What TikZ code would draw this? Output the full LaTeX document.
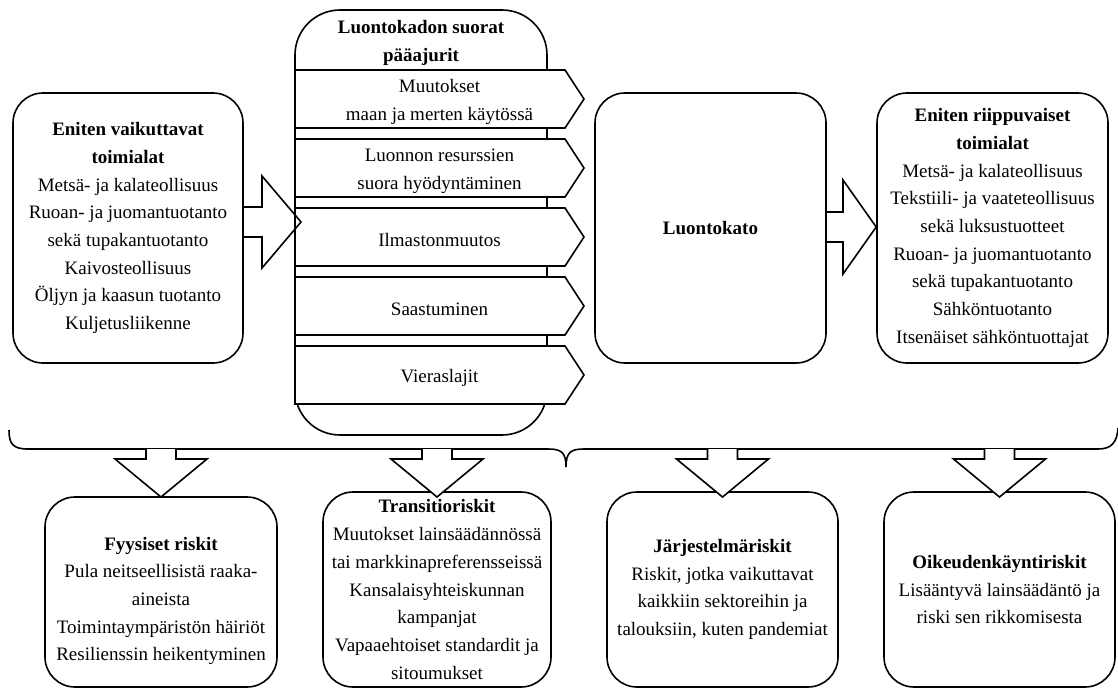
\documentclass[tikz,border=0pt]{standalone}
\usepackage{fontspec}
\setmainfont{Liberation Serif}
\usetikzlibrary{calc}
\begin{document}
\begin{tikzpicture}[x=1pt,y=-1pt,line width=1.6pt,
  every node/.style={font=\fontsize{19}{27.7}\selectfont},
  box/.style={draw, rounded corners=30pt, align=center, inner sep=0pt},
  colbox/.style={draw, rounded corners=45pt, inner sep=0pt},
  chev/.style={draw, fill=white, line join=miter},
  lbl/.style={align=center, inner sep=0pt},
  blockarrow/.style={draw, line join=miter}]
\useasboundingbox (0,0) rectangle (1118,688);

% top row boxes
\node[box, minimum width=230pt, minimum height=270pt] (L) at (128,228)
  {\textbf{Eniten vaikuttavat}\\\textbf{toimialat}\\Metsä- ja kalateollisuus\\Ruoan- ja juomantuotanto\\sekä tupakantuotanto\\Kaivosteollisuus\\Öljyn ja kaasun tuotanto\\Kuljetusliikenne};

\node[box, minimum width=231pt, minimum height=270pt] (C) at (710.5,228)
  {\textbf{Luontokato}};

\node[box, minimum width=231pt, minimum height=270pt] (R) at (992.5,228)
  {\textbf{Eniten riippuvaiset}\\\textbf{toimialat}\\Metsä- ja kalateollisuus\\Tekstiili- ja vaateteollisuus\\sekä luksustuotteet\\Ruoan- ja juomantuotanto\\sekä tupakantuotanto\\Sähköntuotanto\\Itsenäiset sähköntuottajat};

% middle column
\node[colbox, minimum width=252pt, minimum height=425pt] (M) at (421,222.5) {};
\node[lbl] (Mt) at (421,43) {\textbf{Luontokadon suorat}\\\textbf{pääajurit}};

\foreach \i/\t in {0/{Muutokset\\maan ja merten käytössä},
                   1/{Luonnon resurssien\\suora hyödyntäminen},
                   2/{Ilmastonmuutos},
                   3/{Saastuminen},
                   4/{Vieraslajit}} {
  \pgfmathsetmacro\tp{70+69*\i}
  \draw[chev] (295,\tp) -- (565,\tp) -- (584,\tp+29) -- (565,\tp+58) -- (295,\tp+58) -- cycle;
  \node[lbl] (d\i) at (439.5,\tp+32) {\t};
}

% horizontal block arrows
\draw[blockarrow] (L.east |- 0,207) -- (262,207) -- (262,176) -- (301,222)
  -- (262,268) -- (262,237) -- (L.east |- 0,237);
\draw[blockarrow] (C.east |- 0,212) -- (843,212) -- (843,180) -- (R.west |- 0,227)
  -- (843,274) -- (843,242) -- (C.east |- 0,242);

% bottom boxes
\node[box, minimum width=232pt, minimum height=190pt] (F) at (161,592) {};
\node[lbl] (Ft) at (161,601)
  {\textbf{Fyysiset riskit}\\Pula neitseellisistä raaka-\\aineista\\Toimintaympäristön häiriöt\\Resilienssin heikentyminen};
\node[box, minimum width=228pt, minimum height=195pt] (T) at (437,589.5)
  {\textbf{Transitioriskit}\\Muutokset lainsäädännössä\\tai markkinapreferensseissä\\Kansalaisyhteiskunnan\\kampanjat\\Vapaaehtoiset standardit ja\\sitoumukset};
\node[box, minimum width=231pt, minimum height=195pt] (J) at (722.5,589.5)
  {\textbf{Järjestelmäriskit}\\Riskit, jotka vaikuttavat\\kaikkiin sektoreihin ja\\talouksiin, kuten pandemiat};
\node[box, minimum width=231pt, minimum height=195pt] (O) at (999.5,589.5)
  {\textbf{Oikeudenkäyntiriskit}\\Lisääntyvä lainsäädäntö ja\\riski sen rikkomisesta};

% brace
\draw (9,430) .. controls (9,444) and (13,449) .. (28,449) -- (548,449)
  .. controls (561,449) and (566,452) .. (566,467)
  .. controls (566,452) and (571,449) .. (584,449) -- (1098,449)
  .. controls (1111,449) and (1117,443) .. (1118,428);

% down block arrows
\foreach \n in {F,T,J,O} {
  \draw[blockarrow, fill=white]
    ($(\n.north |- 0,449)+(-15,0)$) -- ($(\n.north |- 0,459)+(-15,0)$)
    -- ($(\n.north |- 0,459)+(-46,0)$) -- (\n.north |- 0,497)
    -- ($(\n.north |- 0,459)+(46,0)$) -- ($(\n.north |- 0,459)+(15,0)$)
    -- ($(\n.north |- 0,449)+(15,0)$);
}
\end{tikzpicture}
\end{document}
